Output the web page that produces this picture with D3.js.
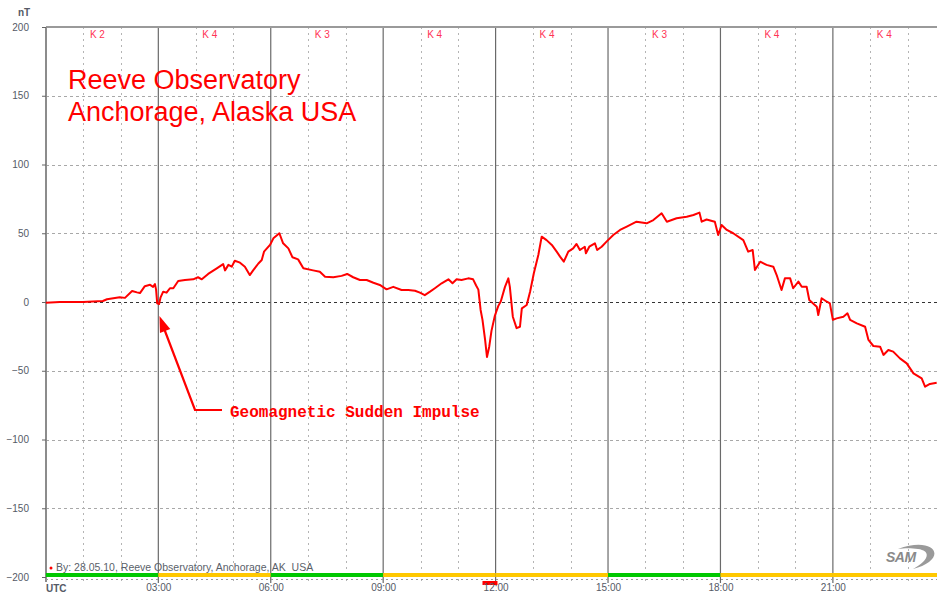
<!DOCTYPE html>
<html>
<head>
<meta charset="utf-8">
<script src="https://cdn.jsdelivr.net/npm/d3@7/dist/d3.min.js"></script>
<style>
  html, body { margin: 0; padding: 0; background: #fff; }
  svg { display: block; font-family: "Liberation Sans", Arial, sans-serif; }
</style>
</head>
<body>
<svg id="chart" width="937" height="593"></svg>
<script>
// magnetometer trace (hours UTC, nT)
const hours = [0, 0.37, 0.99, 1.52, 1.63, 1.97, 2.11, 2.30, 2.43, 2.51, 2.64, 2.78, 2.86, 2.91, 2.94,
  2.97, 3.02, 3.06, 3.13, 3.22, 3.31, 3.40, 3.53, 3.71, 3.93, 4.06, 4.16, 4.33, 4.56, 4.73, 4.78,
  4.87, 4.96, 5.04, 5.18, 5.31, 5.44, 5.53, 5.67, 5.76, 5.82, 5.98, 6.07, 6.23, 6.33, 6.47, 6.58,
  6.73, 6.87, 7.13, 7.31, 7.45, 7.67, 7.89, 8.04, 8.20, 8.38, 8.56, 8.74, 8.91, 9.09, 9.27, 9.49,
  9.67, 9.85, 9.98, 10.11, 10.25, 10.38, 10.56, 10.74, 10.85, 10.96, 11.09, 11.27, 11.40, 11.48,
  11.54, 11.60, 11.65, 11.72, 11.77, 11.83, 11.89, 11.98, 12.07, 12.14, 12.25, 12.34, 12.38, 12.46,
  12.56, 12.65, 12.70, 12.83, 12.92, 13.02, 13.14, 13.23, 13.36, 13.50, 13.63, 13.72, 13.82, 13.94,
  14.07, 14.16, 14.25, 14.38, 14.41, 14.50, 14.65, 14.71, 14.83, 14.96, 15.14, 15.32, 15.50, 15.76,
  16.03, 16.21, 16.43, 16.57,
  16.83, 17.10, 17.28, 17.44, 17.50, 17.63, 17.85, 17.94, 18.03, 18.17, 18.34, 18.61, 18.74, 18.86,
  18.92, 19.06, 19.23, 19.41, 19.50, 19.63, 19.72, 19.86, 19.94, 20.08, 20.17, 20.30, 20.37, 20.57,
  20.61, 20.70, 20.84, 20.92, 21.00, 21.10, 21.28, 21.39, 21.46, 21.64, 21.86, 21.95, 22.08, 22.26,
  22.35, 22.48, 22.61, 22.79, 22.97, 23.15, 23.37, 23.46, 23.59, 23.77];
const nT = [-0.5, 0, 0, 0.7, 2, 3.5, 3, 8, 7, 6.5, 11.5, 12.5, 11, 13, 9,
  -1, -1.5, 3.4, 7.5, 6.8, 10, 10, 15.3, 16, 16.5, 18, 16.5, 20.4, 24.5, 27.6, 23,
  27, 25.7, 30, 28.6, 25.7, 19.6, 23, 28, 30.5, 36.6, 41.5, 46.3, 50, 42.7, 39, 32.5,
  31, 24.5, 23, 22, 18.4, 18, 19, 20.4, 18, 16, 16, 14, 12.4, 9.2, 11, 8.7,
  8.7, 8.2, 6.8, 5, 7.5, 10, 13.6, 16.5, 13.6, 16.5, 16, 17.2, 16.5, 12,
  9, -5.8, -13, -27.6, -40, -32.5, -21, -10, -3, 0.5, 11, 17.2, 11, -10.7,
  -19, -18, -4.6, -2.2, 7.5, 20.9, 34.2, 47.5, 45, 41.5, 36.6, 33, 29.3, 36.6,
  39, 42.2, 37.8, 40.2, 35.4, 40.2, 42.7, 37.8, 40.2, 43.9, 48.7, 52.4, 54.8, 58.4,
  57.2, 59.6, 64.5, 58.4,
  60.9, 62, 63.3, 65, 58.4, 60, 58.4, 48.7, 56, 52.4, 50, 45, 36.6, 37.8,
  23.3, 29.3, 27, 25.7, 19.6, 8.7, 17.2, 17.2, 10, 14.8, 11.1, 11.1, 1.5, -3.4,
  -9.5, 2.7, 0.2, -1, -13, -11.9, -10.7, -8.2, -13, -15.5, -18, -27.6, -32, -32.5,
  -38.5, -34.9, -36.1, -41, -44.6, -51.9, -55.5, -61.6, -59.6, -58.7];

// three-hour K indices
const kIndex = [2, 4, 3, 4, 4, 3, 4, 4];
const yTicks = [-200, -150, -100, -50, 0, 50, 100, 150, 200];
const timeTicks = [3, 6, 9, 12, 15, 18, 21];
const timeLabels = ["03:00", "06:00", "09:00", "12:00", "15:00", "18:00", "21:00"];
const eventMarks = [[11.65, 12.05]];
const titleLines = ["Reeve Observatory", "Anchorage, Alaska USA"];
const note = "Geomagnetic Sudden Impulse";
const credit = "By: 28.05.10, Reeve Observatory, Anchorage, AK  USA";

const svg = d3.select("#chart");
const W = 937;
const plotTop = 27, plotBottom = 577, plotLeft = 46;

const x = d3.scaleLinear().domain([0, 24]).range([45.9, 945.3]);
const y = d3.scaleLinear().domain([-200, 200]).range([plotBottom, plotTop]);

// grid
const grid = svg.append("g");
grid.selectAll(".hgrid")
  .data(yTicks.filter(d => d > -200 && d < 200))
  .join("line")
  .attr("x1", plotLeft).attr("x2", W)
  .attr("y1", d => Math.round(y(d)) + 0.5).attr("y2", d => Math.round(y(d)) + 0.5)
  .attr("stroke", d => d === 0 ? "#333" : "#a8a8a8")
  .attr("stroke-width", 1)
  .attr("stroke-dasharray", "3,3");

grid.selectAll(".vgrid")
  .data(d3.range(1, 24).filter(h => h % 3 !== 0))
  .join("line")
  .attr("x1", d => Math.round(x(d)) + 0.5).attr("x2", d => Math.round(x(d)) + 0.5)
  .attr("y1", plotTop).attr("y2", plotBottom + 6)
  .attr("stroke", "#b4b4b4")
  .attr("stroke-dasharray", "2,4");

grid.selectAll(".vmajor")
  .data(timeTicks)
  .join("line")
  .attr("x1", d => x(d)).attr("x2", d => x(d))
  .attr("y1", plotTop).attr("y2", plotBottom + 6)
  .attr("stroke", "#6a6a6a")
  .attr("stroke-width", 1.2);

// frame
svg.append("line").attr("x1", plotLeft).attr("x2", W).attr("y1", plotTop).attr("y2", plotTop)
  .attr("stroke", "#9a9a9a").attr("stroke-width", 2);
svg.append("line").attr("x1", plotLeft).attr("x2", plotLeft).attr("y1", plotTop).attr("y2", plotBottom + 5)
  .attr("stroke", "#8c8c8c").attr("stroke-width", 2);
svg.append("line").attr("x1", plotLeft).attr("x2", W).attr("y1", plotBottom + 2.5).attr("y2", plotBottom + 2.5)
  .attr("stroke", "#999").attr("stroke-dasharray", "2,3");

// K index bar and labels
svg.append("g").selectAll("rect")
  .data(kIndex)
  .join("rect")
  .attr("x", (d, i) => x(i * 3))
  .attr("width", (d, i) => x(i * 3 + 3) - x(i * 3))
  .attr("y", plotBottom - 4).attr("height", 4)
  .attr("fill", d => d <= 3 ? "#00c800" : "#ffc800");

svg.append("g").selectAll("text")
  .data(kIndex)
  .join("text")
  .attr("x", (d, i) => x(i * 3 + 1) + 6.5)
  .attr("y", 38)
  .attr("font-size", 10)
  .attr("fill", "#ff3355")
  .text(d => "K " + d);

svg.append("g").selectAll("rect")
  .data(eventMarks)
  .join("rect")
  .attr("x", d => x(d[0])).attr("width", d => x(d[1]) - x(d[0]))
  .attr("y", 581).attr("height", 4)
  .attr("fill", "#ff0000");

// axes
const yAxis = svg.append("g")
  .attr("transform", `translate(${plotLeft},0)`)
  .call(d3.axisLeft(y).tickValues(yTicks).tickSize(4).tickPadding(13));
yAxis.select(".domain").remove();
yAxis.selectAll("line").attr("stroke", "#666");
yAxis.selectAll("text").attr("font-size", 10).attr("fill", "#555a66")
  .attr("font-family", "Liberation Sans, Arial, sans-serif");

const xAxis = svg.append("g")
  .attr("transform", `translate(0,${plotBottom})`)
  .call(d3.axisBottom(x).tickValues(timeTicks).tickSize(0).tickPadding(7)
    .tickFormat((d, i) => timeLabels[i]));
xAxis.select(".domain").remove();
xAxis.selectAll("text").attr("font-size", 10).attr("fill", "#555a66")
  .attr("font-family", "Liberation Sans, Arial, sans-serif");

svg.append("text").attr("x", 18).attr("y", 16).attr("font-size", 10)
  .attr("font-weight", "bold").attr("fill", "#555a66").text("nT");
svg.append("text").attr("x", 46).attr("y", 592).attr("font-size", 10)
  .attr("font-weight", "bold").attr("fill", "#555a66").text("UTC");

// credit line
svg.append("circle").attr("cx", 51).attr("cy", 568).attr("r", 1.5).attr("fill", "#ff0000");
svg.append("text").attr("x", 56).attr("y", 571).attr("font-size", 10.5)
  .style("white-space", "pre")
  .attr("fill", "#5a5f6a").text(credit);

// SAM logo
const logo = svg.append("g").attr("transform", "translate(884,562)");
logo.append("path")
  .attr("d", "M14,-13 C42,-24 60,-12 45,0 C41,3 36,5 29,7 C43,0 49,-11 34,-13 C28,-14 20,-14 14,-13 Z")
  .attr("fill", "#9a9a9a");
logo.append("text").attr("x", 2).attr("y", 0).attr("font-size", 14)
  .attr("font-style", "italic").attr("font-weight", "bold").attr("fill", "#8a8a8a")
  .attr("letter-spacing", -0.5).text("SAM");

// data line
const line = d3.line().x((d, i) => x(hours[i])).y(d => y(d));
svg.append("path")
  .datum(nT)
  .attr("d", line)
  .attr("fill", "none")
  .attr("stroke", "#ff0000")
  .attr("stroke-width", 2)
  .attr("stroke-linejoin", "round");

// title
svg.append("g").selectAll("text")
  .data(titleLines)
  .join("text")
  .attr("x", 68)
  .attr("y", (d, i) => 89 + i * 32)
  .attr("font-size", 27)
  .attr("fill", "#ff0000")
  .text(d => d);

// annotation
const tip = [x(3.03), 316];
const elbow = [195, 410];
svg.append("path")
  .attr("d", `M222,${elbow[1]} L${elbow[0]},${elbow[1]} L${tip[0] + 4},${tip[1] + 11}`)
  .attr("fill", "none").attr("stroke", "#ff0000").attr("stroke-width", 2.2);
const ang = Math.atan2(elbow[1] - tip[1], elbow[0] - tip[0]);
const hl = 16, hw = 5.5;
const bx = tip[0] + hl * Math.cos(ang), by = tip[1] + hl * Math.sin(ang);
svg.append("path")
  .attr("d", `M${tip[0]},${tip[1]} L${bx - hw * Math.sin(ang)},${by + hw * Math.cos(ang)} L${bx + hw * Math.sin(ang)},${by - hw * Math.cos(ang)} Z`)
  .attr("fill", "#ff0000");
svg.append("text").attr("x", 230).attr("y", 417)
  .attr("font-family", "Liberation Mono, Courier New, monospace")
  .attr("font-size", 16).attr("font-weight", "bold").attr("fill", "#ff0000")
  .text(note);
</script>
</body>
</html>
